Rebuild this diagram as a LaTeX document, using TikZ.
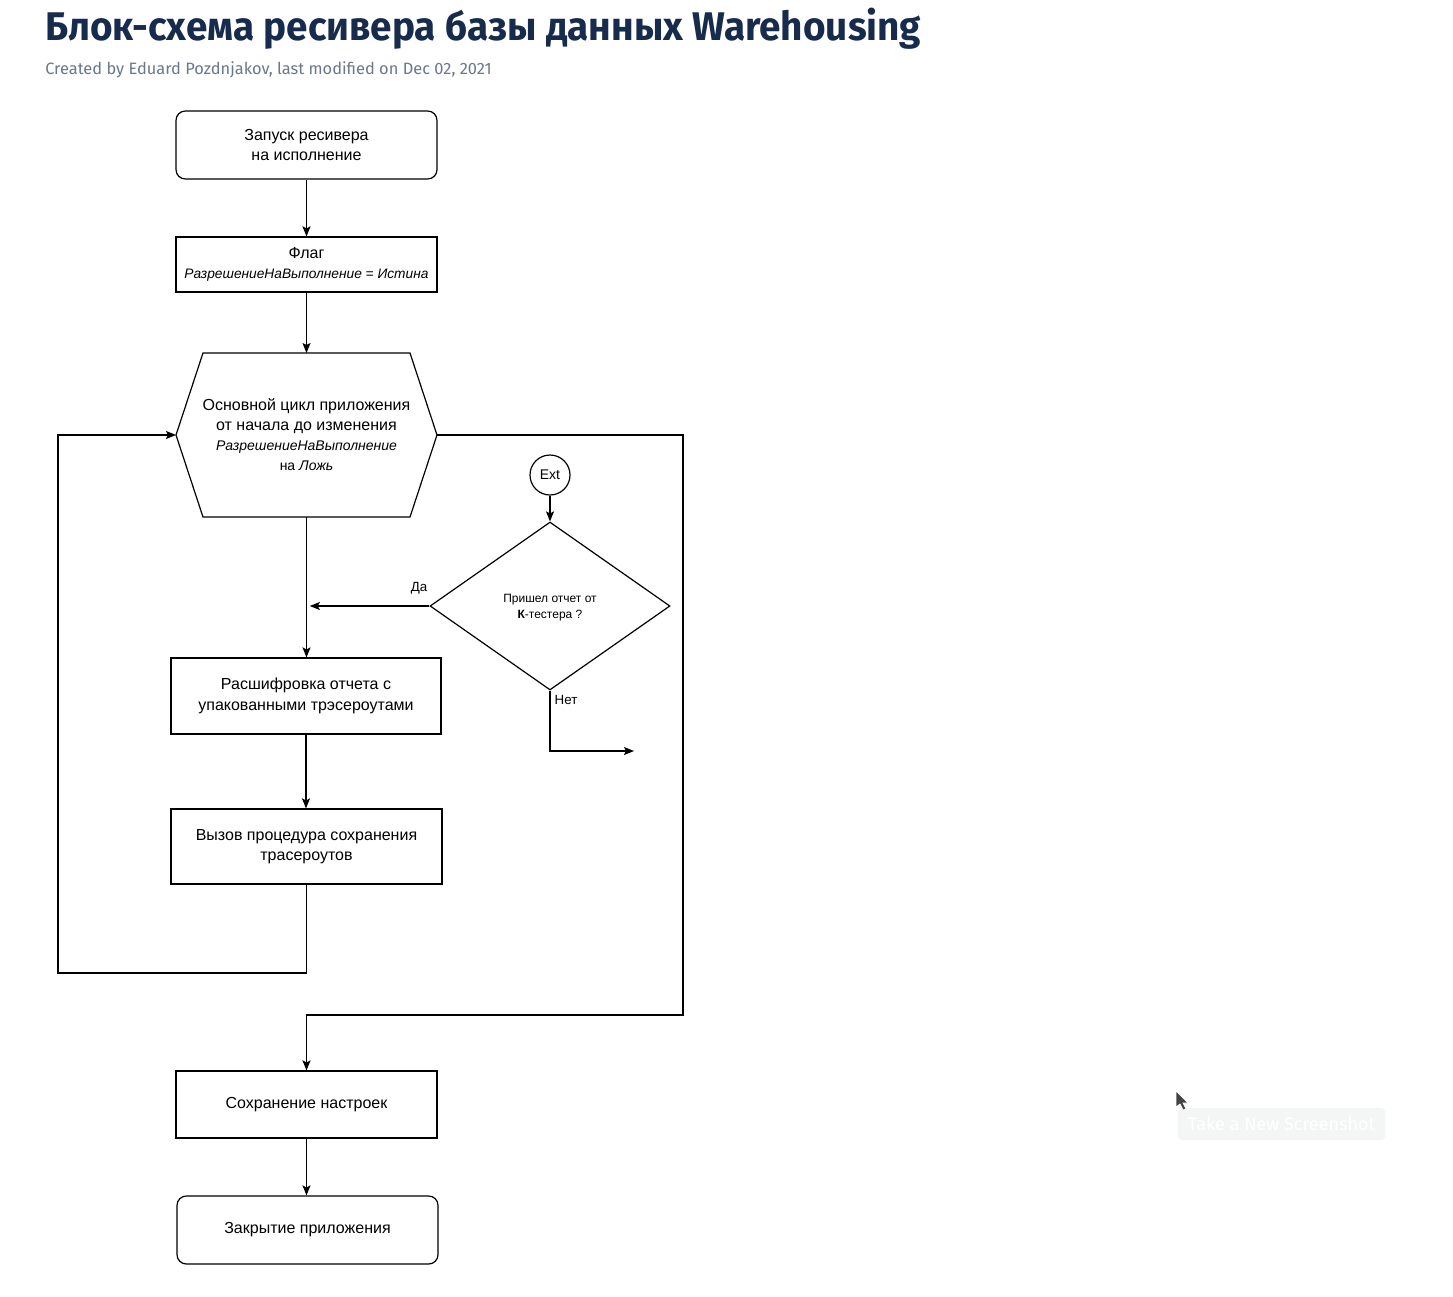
\documentclass[tikz,border=0pt]{standalone}
\usepackage{fontspec}
\setmainfont{Liberation Sans}
\newfontfamily\titlefont{Fira Sans}
\usetikzlibrary{shapes.geometric,arrows.meta}
\definecolor{titleblue}{HTML}{172B4D}
\definecolor{metagray}{HTML}{6B778C}
\definecolor{shotgray}{HTML}{F4F5F5}
\definecolor{cursorgray}{HTML}{444444}
\begin{document}
\begin{tikzpicture}[x=0.75pt,y=-0.75pt,
  shapeline/.style={draw=black, line width=0.9pt},
  plainbox/.style={shapeline, rectangle, inner sep=0pt, align=center, font=\fontsize{12}{15.5}\selectfont},
  roundbox/.style={plainbox, rounded corners=7pt},
  arr/.style={draw=black, line width=0.9pt, -{Stealth[length=7.5pt,width=6pt,inset=1.5pt]}},
  lbl/.style={inner sep=0pt, font=\fontsize{10}{12}\selectfont}
]
\useasboundingbox (0,0) rectangle (1453,1296);
\fill[white] (0,0) rectangle (1453,1296);

% header
\node[anchor=base west, inner sep=0pt, text=titleblue,
      font=\titlefont\bfseries\fontsize{30}{36}\selectfont] (title) at (45,40)
  {\scalebox{0.967}[1]{Блок-схема ресивера базы данных Warehousing}};
\node[anchor=base west, inner sep=0pt, text=metagray,
      font=\titlefont\fontsize{12.3}{14}\selectfont] (meta) at (45,74)
  {Created by Eduard Pozdnjakov, last modified on Dec 02, 2021};

% boxes
\node[roundbox, minimum width=195.75pt, minimum height=51pt] (start) at (306.5,145)
  {Запуск ресивера\\на исполнение};
\node[plainbox, minimum width=195.75pt, minimum height=41.25pt] (flag) at (306.5,264.5)
  {Флаг\\{\fontsize{10.3}{13}\selectfont\itshape РазрешениеНаВыполнение = Истина}};

% hexagon
\coordinate (hexL) at (176,435);
\coordinate (hexR) at (437,435);
\coordinate (hexT) at (306.5,353);
\coordinate (hexB) at (306.5,517);
\draw[shapeline] (hexL) -- (203,353) -- (410,353) -- (hexR) -- (410,517) -- (203,517) -- cycle;
\node[align=center, inner sep=0pt, font=\fontsize{12}{15}\selectfont] (hex) at (306.5,435)
  {Основной цикл приложения\\от начала до изменения\\
   {\fontsize{10.5}{15}\selectfont\itshape РазрешениеНаВыполнение}\\
   {\fontsize{10.5}{15}\selectfont на \textit{Ложь}}};

\node[plainbox, minimum width=202.5pt, minimum height=57pt] (dec) at (306,696)
  {Расшифровка отчета с\\упакованными трэсероутами};
\node[plainbox, minimum width=203.25pt, minimum height=56.25pt] (call) at (306.5,846.5)
  {Вызов процедура сохранения\\трасероутов};
\node[plainbox, minimum width=195.75pt, minimum height=50.25pt] (save) at (306.5,1104.5)
  {Сохранение настроек};
\node[roundbox, minimum width=195.75pt, minimum height=51pt] (close) at (307.5,1230)
  {Закрытие приложения};

% Ext and decision
\node[shapeline, circle, minimum size=30pt, inner sep=0pt, font=\fontsize{10.5}{12}\selectfont] (ext) at (550,475) {Ext};
\node[shapeline, diamond, minimum width=180pt, minimum height=126pt, inner sep=0pt, align=center,
      font=\fontsize{9}{12.5}\selectfont] (dia) at (550,606)
  {\\[-4pt]Пришел отчет от\\\textbf{К}-тестера ?};

% connectors
\draw[arr] (start) -- (flag);
\draw[arr] (flag) -- (hexT);
\draw[arr] (hexB) -- (hexB |- dec.north);
\draw[arr] (dec.south) -- (dec.south |- call.north);
\draw[arr] (ext) -- (dia.north);
\draw[arr] (dia.west) -- ([xshift=2.5pt]hexB |- dia.west);
\node[lbl] (yes) at (419,588) {Да};
\coordinate (noBend) at (550,751);
\coordinate (noEnd) at (634,751);
\draw[arr] (dia.south) -- (noBend) -- (noEnd);
\node[lbl] (no) at (566,700) {Нет};

\coordinate (loopA) at (58,973);
\draw[arr] (call.south) -- (call.south |- loopA) -- (loopA) -- (loopA |- hexL) -- (hexL);
\coordinate (exitA) at (683,1015);
\draw[arr] (hexR) -- (exitA |- hexR) -- (exitA) -- (save.north |- exitA) -- (save.north);
\draw[arr] (save.south) -- (save.south |- close.north);

% screenshot overlay
\node[fill=shotgray, rounded corners=3pt, minimum width=155.25pt, minimum height=24pt, inner sep=0pt,
      text=white, font=\titlefont\fontsize{13.5}{16}\selectfont] (shot) at (1281.5,1124)
  {Take a New Screenshot};
\filldraw[fill=cursorgray, draw=white, line width=0.5pt]
  (1176,1091) -- (1176,1107) -- (1180,1104) -- (1183,1110) -- (1186,1109) -- (1183,1103) -- (1188,1103) -- cycle;
\end{tikzpicture}
\end{document}
